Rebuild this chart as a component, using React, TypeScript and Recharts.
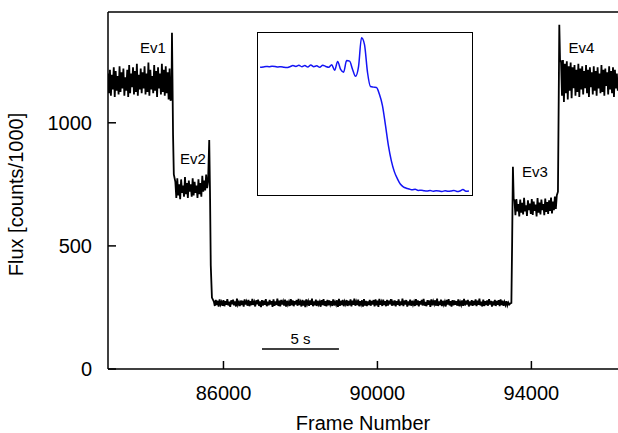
import React from 'react';
import { LineChart, Line, XAxis, YAxis, ReferenceLine, ReferenceDot } from 'recharts';

// flux plateaus, sampled at a fixed frame step inside each plateau
const level1Start = 83000;
const level1Flux = [
  1200, 1120, 1215, 1110, 1195, 1135, 1225, 1105, 1210, 1130,
  1190, 1115, 1230, 1125, 1205, 1140, 1220, 1110, 1185, 1130,
  1215, 1105, 1235, 1120, 1200, 1145, 1225, 1115, 1210, 1125,
  1240, 1110, 1195, 1135, 1220, 1120, 1205, 1140, 1230, 1115,
  1200, 1125, 1245, 1110, 1215, 1135, 1190, 1120, 1235, 1130,
  1210, 1105, 1225, 1140, 1200, 1115, 1240, 1125, 1215, 1110,
  1230, 1120, 1205, 1095, 1220, 1090, 1100,
];
const ev1Frames = [84662, 84675, 84690, 84710];
const ev1Flux = [1366, 1180, 950, 790];

const level2Start = 84750;
const level2Flux = [
  760, 695, 775, 705, 750, 690, 770, 715, 745, 700,
  780, 710, 755, 695, 765, 720, 750, 700, 775, 705,
  760, 715, 745, 695, 770, 710, 755, 700, 785, 720,
  765, 725, 790, 735, 760,
];
const ev2Frames = [85630, 85650, 85670, 85700];
const ev2Flux = [930, 720, 420, 290];

const lowStart = 85750;
const lowFlux = [
  274, 256, 281, 260, 277, 253, 283, 262, 272, 257,
  280, 255, 276, 261, 284, 258, 273, 252, 279, 263,
  282, 259, 275, 254, 286, 261, 271, 256, 278, 260,
  277, 253, 283, 262, 274, 257, 281, 255, 276, 259,
  285, 260, 272, 254, 279, 263, 282, 256, 275, 251,
  280, 258, 277, 261, 284, 255, 273, 259, 281, 262,
  276, 252, 283, 257, 274, 260, 286, 256, 278, 254,
  281, 262, 275, 258, 282, 253, 277, 261, 273, 256,
  284, 259, 279, 255, 276, 262, 280, 257, 285, 260,
  272, 254, 281, 258, 278, 251, 283, 263, 275, 257,
  279, 261, 286, 255, 274, 259, 282, 256, 277, 262,
  273, 253, 280, 260, 284, 257, 276, 254, 281, 259,
  278, 262, 275, 256, 283, 258, 272, 261, 279, 252,
  285, 257, 277, 260, 281, 255, 274, 263, 280, 256,
  276, 259, 283, 254, 278, 261, 286, 257, 273, 260,
  282, 255, 275, 262, 279, 253, 284, 258, 277, 256,
  274, 260, 281, 257, 276, 262, 280, 254, 283, 259,
  278, 252, 285, 261, 273, 256, 282, 260, 275, 255,
  281, 258, 277, 263, 284, 257, 272, 259, 279, 254,
  276, 261, 283, 256, 274, 260, 286, 255, 278, 262,
  280, 253, 275, 259, 282, 257, 277, 261, 273, 256,
  284, 260, 279, 254, 276, 262, 281, 258, 285, 257,
  272, 255, 280, 261, 278, 252, 283, 259, 275, 263,
  279, 257, 286, 256, 274, 260, 282, 255, 277, 261,
  273, 254, 281, 262, 284, 258, 276, 253, 280, 259,
  278, 261, 275, 257, 283, 255, 272, 260, 279, 256,
  285, 258, 277, 262, 281, 254, 274, 259, 280, 257,
  276, 260, 283, 255, 278, 261, 286, 258, 273, 254,
  282, 256, 275, 260, 279, 257, 284, 262, 277, 253,
  274, 259, 281, 256, 276, 261, 280, 255, 283, 260,
  278, 257, 272, 260, 275, 258, 270, 262, 266,
];
const ev3Frames = [93480, 93500, 93520, 93540];
const ev3Flux = [268, 520, 821, 690];

const level3Start = 93560;
const level3Flux = [
  685, 625, 690, 640, 670, 620, 688, 635, 675, 628,
  695, 640, 665, 622, 685, 645, 672, 630, 690, 626,
  680, 642, 668, 620, 694, 635, 676, 628, 688, 645,
  670, 625, 692, 638, 678, 630, 685, 642, 696, 632,
  680, 645, 700, 650, 705,
];
const ev4Frames = [94690, 94710, 94725, 94745];
const ev4Flux = [720, 1100, 1398, 1250];

const level4Start = 94770;
const level4Flux = [
  1250, 1110, 1255, 1085, 1240, 1120, 1250, 1095, 1230, 1130,
  1245, 1100, 1225, 1140, 1235, 1110, 1215, 1125, 1240, 1105,
  1220, 1135, 1230, 1115, 1210, 1140, 1235, 1120, 1215, 1105,
  1225, 1145, 1205, 1115, 1230, 1130, 1210, 1110, 1225, 1140,
  1200, 1120, 1235, 1125, 1215, 1110, 1220, 1150, 1205, 1115,
  1230, 1135, 1210, 1120, 1225, 1105, 1215, 1140, 1200, 1130,
];

const FRAME_STEP = 25;

const xTicks = [86000, 90000, 94000];
const yTicks = [0, 500, 1000];

const events = [
  { name: 'Ev1', frame: 84169, flux: 1303 },
  { name: 'Ev2', frame: 85208, flux: 854 },
  { name: 'Ev3', frame: 94091, flux: 799 },
  { name: 'Ev4', frame: 95299, flux: 1303 },
];

// zoom on Ev1 (inset), one value per sample
const insetFlux = [
  1168, 1169, 1171, 1170, 1172, 1171, 1169, 1170, 1168, 1167,
  1170, 1174, 1171, 1175, 1170, 1174, 1169, 1176, 1170, 1173,
  1168, 1175, 1171, 1168, 1177, 1157, 1189, 1160, 1150, 1192,
  1190, 1160, 1135, 1170, 1275, 1250, 1150, 1098, 1096, 1095,
  1070, 1030, 960, 885, 829, 790, 765, 745, 735, 730,
  727, 724, 726, 722, 723, 721, 720, 722, 719, 721,
  720, 718, 721, 719, 720, 722, 718, 720, 725, 719,
  720,
];

const seg = (start: number, step: number, values: number[]) =>
  values.map((v, i) => ({ frame: start + i * step, flux: v }));
const pts = (frames: number[], values: number[]) =>
  frames.map((f, i) => ({ frame: f, flux: values[i] }));

const mainData = [
  ...seg(level1Start, FRAME_STEP, level1Flux),
  ...pts(ev1Frames, ev1Flux),
  ...seg(level2Start, FRAME_STEP, level2Flux),
  ...pts(ev2Frames, ev2Flux),
  ...seg(lowStart, FRAME_STEP, lowFlux),
  ...pts(ev3Frames, ev3Flux),
  ...seg(level3Start, FRAME_STEP, level3Flux),
  ...pts(ev4Frames, ev4Flux),
  ...seg(level4Start, FRAME_STEP, level4Flux),
];

const insetData = insetFlux.map((v, i) => ({ sample: i, flux: v }));

const FONT = '"Liberation Sans", Arial, Helvetica, sans-serif';

const XTick = (props: any) => {
  const { x, y, payload } = props;
  return (
    <g>
      <line x1={x} x2={x} y1={y} y2={y - 8} stroke="#000" strokeWidth={1.5} />
      <text x={x} y={y + 31} textAnchor="middle" fontSize={20} fill="#000" fontFamily={FONT}>
        {payload.value}
      </text>
    </g>
  );
};

const YTick = (props: any) => {
  const { x, y, payload } = props;
  return (
    <g>
      <line x1={x} x2={x + 8} y1={y} y2={y} stroke="#000" strokeWidth={1.5} />
      <text x={x - 16} y={y + 7} textAnchor="end" fontSize={20} fill="#000" fontFamily={FONT}>
        {payload.value}
      </text>
    </g>
  );
};

const YLabel = (props: any) => {
  const vb = props.viewBox || { x: 0, y: 12, width: 108, height: 357 };
  const cy = vb.y + vb.height / 2 + 4;
  return (
    <text
      transform={`translate(23, ${cy}) rotate(-90)`}
      textAnchor="middle"
      fontSize={20}
      fill="#000"
      fontFamily={FONT}
    >
      Flux [counts/1000]
    </text>
  );
};

const EventLabel = (name: string) => (props: any) => (
  <text x={props.cx} y={props.cy + 5} textAnchor="middle" fontSize={15} fill="#000" fontFamily={FONT}>
    {name}
  </text>
);

export default function App() {
  return (
    <div style={{ position: 'absolute', left: 0, top: 0, width: 618, height: 433, background: '#fff' }}>
      <LineChart width={618} height={433} data={mainData} margin={{ top: 12, right: 0, left: 0, bottom: 0 }}>
        <XAxis
          dataKey="frame"
          type="number"
          domain={[83000, 96250]}
          ticks={xTicks}
          tickSize={0}
          tickMargin={0}
          tick={<XTick />}
          height={64}
          axisLine={{ stroke: '#000', strokeWidth: 1.5 }}
          allowDataOverflow
          label={{ value: 'Frame Number', position: 'insideBottom', offset: 3, fontSize: 20, fill: '#000', fontFamily: FONT }}
        />
        <YAxis
          type="number"
          domain={[0, 1450]}
          ticks={yTicks}
          tickSize={0}
          tickMargin={0}
          tick={<YTick />}
          width={108}
          axisLine={{ stroke: '#000', strokeWidth: 1.5 }}
          allowDataOverflow
          label={{ content: YLabel }}
        />
        <ReferenceLine y={1450} stroke="#000" strokeWidth={1.5} ifOverflow="visible" />
        <Line
          type="linear"
          dataKey="flux"
          stroke="#000"
          strokeWidth={1.8}
          dot={false}
          isAnimationActive={false}
        />
        <ReferenceLine
          segment={[{ x: 87000, y: 81 }, { x: 89000, y: 81 }]}
          stroke="#000"
          strokeWidth={1.5}
          label={{ value: '5 s', position: 'top', fontSize: 15, fill: '#000', fontFamily: FONT }}
        />
        {events.map((e) => (
          <ReferenceDot key={e.name} x={e.frame} y={e.flux} r={0} shape={EventLabel(e.name)} />
        ))}
      </LineChart>
      <div
        style={{
          position: 'absolute',
          left: 257,
          top: 32,
          width: 216,
          height: 164,
          boxSizing: 'border-box',
          border: '1.5px solid #000',
          background: '#fff',
        }}
      >
        <LineChart width={213} height={161} data={insetData} margin={{ top: 0, right: 0, left: 0, bottom: 0 }}>
          <XAxis dataKey="sample" type="number" domain={[-0.7, 70.7]} hide />
          <YAxis type="number" domain={[709, 1292]} hide />
          <Line
            type="monotone"
            dataKey="flux"
            stroke="#1414f5"
            strokeWidth={1.5}
            dot={false}
            isAnimationActive={false}
          />
        </LineChart>
      </div>
    </div>
  );
}
